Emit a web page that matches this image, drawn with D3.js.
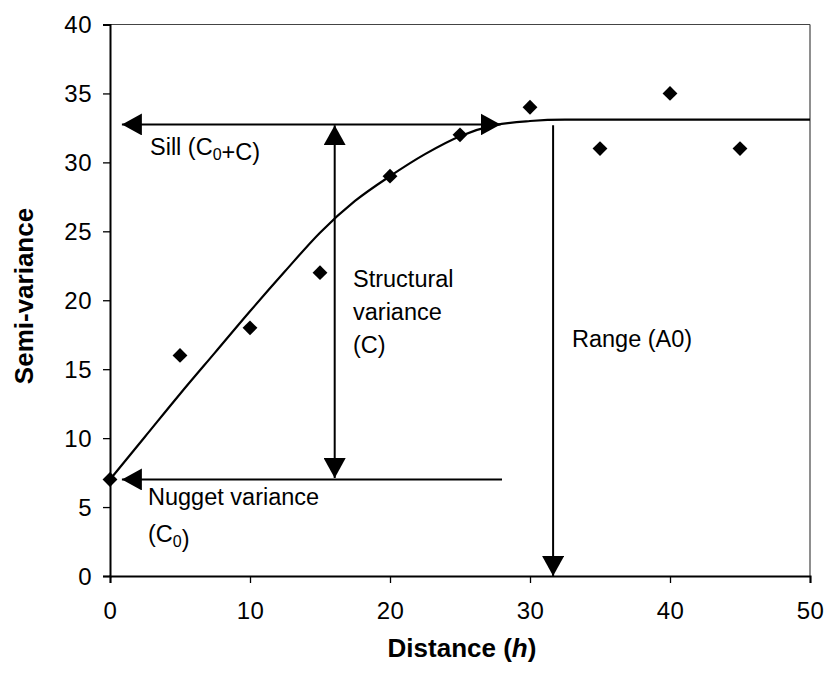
<!DOCTYPE html>
<html>
<head>
<meta charset="utf-8">
<script src="https://cdn.jsdelivr.net/npm/d3@7"></script>
<style>
  body { margin: 0; background: #fff; }
  svg text { font-family: "Liberation Sans", Arial, sans-serif; fill: #000; }
</style>
</head>
<body>
<svg id="chart" width="827" height="673"></svg>
<script>
// Observed semi-variance points
const distances = [0, 5, 10, 15, 20, 25, 30, 35, 40, 45];
const semivariance = [7, 16, 18, 22, 29, 32, 34, 31, 35, 31];

// Fitted model curve
const curveX = [0, 2.5, 5, 7.5, 10, 12.5, 15, 17.5, 20, 22.5, 25, 27.5, 30, 32.5, 35, 40, 45, 50];
const curveY = [7, 10.1, 13.2, 16.2, 19.2, 22.1, 24.9, 27.2, 29.0, 30.6, 31.9, 32.7, 33.0, 33.1, 33.1, 33.1, 33.1, 33.1];

const xTicks = [0, 10, 20, 30, 40, 50];
const yTicks = [0, 5, 10, 15, 20, 25, 30, 35, 40];

// Annotation arrows (data units): [x1, y1, x2, y2]
const arrowSill = [0.85, 32.75, 27.9, 32.75];
const arrowStructural = [16.05, 7.1, 16.05, 32.7];
const arrowNugget = [28, 7, 0.85, 7];
const arrowRange = [31.65, 32.7, 31.65, 0];

(function () {
const svg = d3.select("#chart");
const mLeft = 110, mRight = 810, mTop = 24.5, mBottom = 576;

const x = d3.scaleLinear().domain([0, 50]).range([mLeft, mRight]);
const y = d3.scaleLinear().domain([0, 40]).range([mBottom, mTop]);

// frame top and right
svg.append("line").attr("x1", mLeft).attr("x2", mRight).attr("y1", y(40)).attr("y2", y(40))
  .attr("stroke", "#444").attr("stroke-width", 1.2);
svg.append("line").attr("x1", mRight).attr("x2", mRight).attr("y1", y(40)).attr("y2", y(0))
  .attr("stroke", "#444").attr("stroke-width", 1.2);

// axes
const xAxis = svg.append("g").attr("transform", `translate(0,${mBottom})`)
  .call(d3.axisBottom(x).tickValues(xTicks).tickSize(7).tickPadding(19).tickFormat(d3.format("d")));
const yAxis = svg.append("g").attr("transform", `translate(${mLeft},0)`)
  .call(d3.axisLeft(y).tickValues(yTicks).tickSize(7).tickPadding(11).tickFormat(d3.format("d")));
[xAxis, yAxis].forEach(g => {
  g.select(".domain").attr("stroke", "#000").attr("stroke-width", 2);
  g.selectAll(".tick line").attr("stroke", "#000").attr("stroke-width", 1.3);
  g.selectAll(".tick text").attr("font-size", 24).attr("letter-spacing", 0.5)
    .attr("font-family", "Liberation Sans, Arial, sans-serif").attr("fill", "#000");
});
xAxis.selectAll(".tick text").attr("dy", "0.71em");
yAxis.selectAll(".tick text").attr("dy", "0.35em");

// arrowhead markers
const defs = svg.append("defs");
defs.append("marker").attr("id", "ah").attr("viewBox", "0 0 20 22")
  .attr("refX", 20).attr("refY", 11).attr("markerWidth", 20).attr("markerHeight", 22)
  .attr("markerUnits", "userSpaceOnUse").attr("orient", "auto")
  .append("path").attr("d", "M0,0 L20,11 L0,22 Z").attr("fill", "#000");
defs.append("marker").attr("id", "ahs").attr("viewBox", "0 0 20 22")
  .attr("refX", 0).attr("refY", 11).attr("markerWidth", 20).attr("markerHeight", 22)
  .attr("markerUnits", "userSpaceOnUse").attr("orient", "auto")
  .append("path").attr("d", "M20,0 L0,11 L20,22 Z").attr("fill", "#000");

function arrow(a, both) {
  const l = svg.append("line")
    .attr("x1", x(a[0])).attr("y1", y(a[1])).attr("x2", x(a[2])).attr("y2", y(a[3]))
    .attr("stroke", "#000").attr("stroke-width", 2)
    .attr("marker-end", "url(#ah)");
  if (both) l.attr("marker-start", "url(#ahs)");
}

// model curve
const line = d3.line().x(d => x(d[0])).y(d => y(d[1])).curve(d3.curveMonotoneX);
svg.append("path").datum(curveX.map((v, i) => [v, curveY[i]]))
  .attr("d", line).attr("fill", "none").attr("stroke", "#000").attr("stroke-width", 2.2);

arrow(arrowSill, true);
arrow(arrowStructural, true);
arrow(arrowNugget, false);
arrow(arrowRange, false);

// points
const sym = d3.symbol().type(d3.symbolSquare).size(110);
svg.append("g").selectAll("path").data(distances.map((v, i) => [v, semivariance[i]]))
  .join("path")
  .attr("d", sym)
  .attr("transform", d => `translate(${x(d[0])},${y(d[1])}) rotate(45)`)
  .attr("fill", "#000");

// annotation labels
function label(tx, ty, parts) {
  const t = svg.append("text").attr("x", tx).attr("y", ty).attr("font-size", 23.5);
  parts.forEach(p => {
    if (typeof p === "string") t.append("tspan").text(p);
    else {
      t.append("tspan").attr("font-size", 16).attr("dy", 5).text(p.sub);
      t.append("tspan").attr("dy", -5).text("");
    }
  });
  return t;
}
label(150, 155, ["Sill (C", {sub: "0"}, "+C)"]);
label(353, 287, ["Structural"]);
label(353, 320, ["variance"]);
label(353, 353, ["(C)"]);
label(148, 505, ["Nugget variance"]);
label(148, 542, ["(C", {sub: "0"}, ")"]);
label(572, 347, ["Range (A0)"]);

// axis titles
const xt = svg.append("text").attr("x", 462).attr("y", 657).attr("text-anchor", "middle")
  .attr("font-size", 26).attr("font-weight", "bold");
xt.append("tspan").text("Distance (");
xt.append("tspan").attr("font-style", "italic").text("h");
xt.append("tspan").text(")");

svg.append("text").attr("transform", "translate(33,296) rotate(-90)").attr("text-anchor", "middle")
  .attr("font-size", 26).attr("font-weight", "bold").text("Semi-variance");
})();
</script>
</body>
</html>
